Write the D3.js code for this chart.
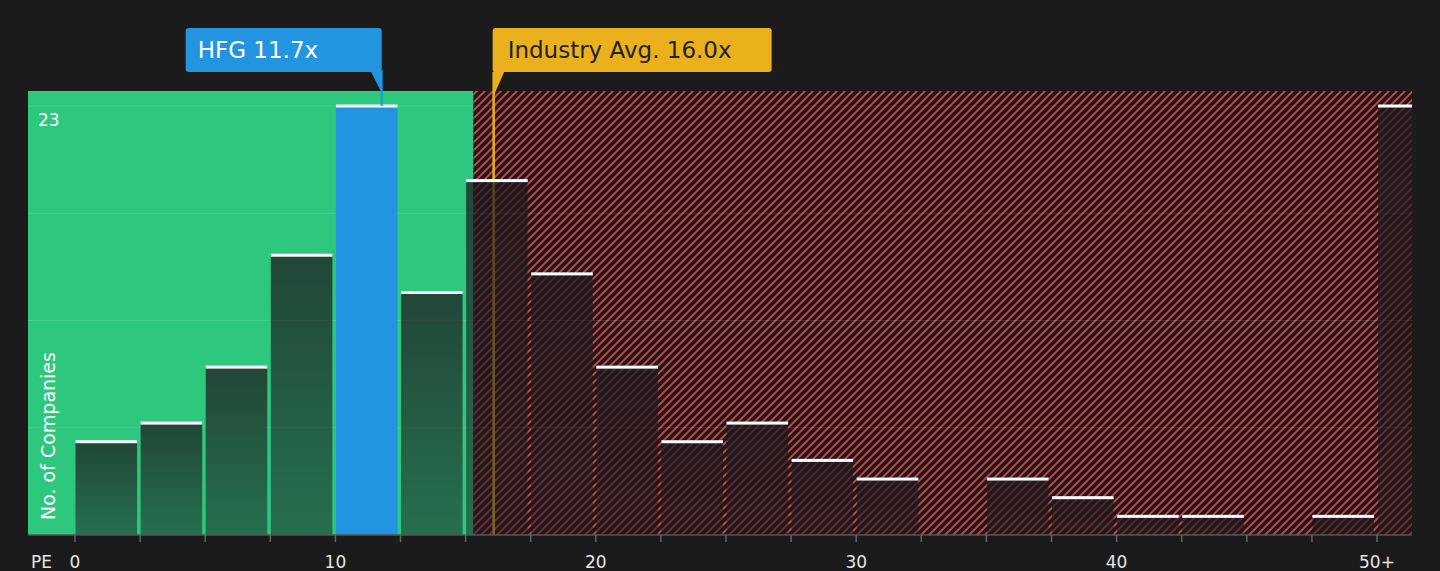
<!DOCTYPE html>
<html>
<head>
<meta charset="utf-8">
<script src="https://cdn.jsdelivr.net/npm/d3@7"></script>
<style>
  html, body { margin: 0; padding: 0; background: #1b1b1b; }
  svg { display: block; font-family: "DejaVu Sans", sans-serif; }
</style>
</head>
<body>
<svg id="chart" width="1440" height="571"></svg>
<script>
// ---- data ----
const binStarts = [0, 2.5, 5, 7.5, 10, 12.5, 15, 17.5, 20, 22.5, 25, 27.5, 30, 32.5, 35, 37.5, 40, 42.5, 45, 47.5, 50];
const counts    = [5, 6, 9, 15, 23, 13, 19, 14, 9, 5, 6, 4, 3, 0, 3, 2, 1, 1, 0, 1, 23];
const tickValues = [0, 10, 20, 30, 40, 50];
const tickLabels = ["0", "10", "20", "30", "40", "50+"];
const yTickValues = [23];
const companyName = "HFG";
const companyPE = 11.7;
const industryPE = 16.0;
const fairThreshold = 15.3;
const highlightBin = 4;

// ---- layout ----
const W = 1440, H = 571;
const plotLeft = 28, plotRight = 1412, plotTop = 91, plotBottom = 535;
const x = d3.scaleLinear().domain([0, 50]).range([75, 1377]);
const y = d3.scaleLinear().domain([0, 23]).range([plotBottom, 106]);
const step = x(2.5) - x(0);

const svg = d3.select("#chart");
svg.append("rect").attr("width", W).attr("height", H).attr("fill", "#1b1b1b");

const defs = svg.append("defs");
const pat = defs.append("pattern").attr("id", "hatch")
  .attr("patternUnits", "userSpaceOnUse").attr("width", 8).attr("height", 8);
pat.append("rect").attr("width", 8).attr("height", 8).attr("fill", "#1b1b1b");
pat.append("path").attr("d", "M-2,2 L2,-2 M0,8 L8,0 M6,10 L10,6")
  .attr("stroke", "#d9484b").attr("stroke-width", 1.6);

const grad = defs.append("linearGradient").attr("id", "barGrad")
  .attr("x1", 0).attr("y1", 0).attr("x2", 0).attr("y2", 1);
grad.append("stop").attr("offset", "0%").attr("stop-color", "rgb(29,25,31)").attr("stop-opacity", 0.74);
grad.append("stop").attr("offset", "100%").attr("stop-color", "rgb(29,25,31)").attr("stop-opacity", 0.5);

const clip = defs.append("clipPath").attr("id", "plotClip");
clip.append("rect").attr("x", plotLeft).attr("y", plotTop)
  .attr("width", plotRight - plotLeft).attr("height", plotBottom - plotTop);

// regions
svg.append("rect").attr("x", plotLeft).attr("y", plotTop)
  .attr("width", x(fairThreshold) - plotLeft).attr("height", plotBottom - plotTop)
  .attr("fill", "#2ec77e");
svg.append("rect").attr("x", x(fairThreshold)).attr("y", plotTop)
  .attr("width", plotRight - x(fairThreshold)).attr("height", plotBottom - plotTop)
  .attr("fill", "url(#hatch)");

// gridlines
const gridVals = [0.25, 0.5, 0.75, 1].map(f => f * 23);
svg.append("g").selectAll("line").data(gridVals).join("line")
  .attr("x1", plotLeft).attr("x2", plotRight)
  .attr("y1", d => y(d)).attr("y2", d => y(d))
  .attr("stroke", "rgba(255,255,255,0.12)").attr("stroke-width", 1);

// industry line (under bars)
const ix = x(industryPE) + 2;
svg.append("line").attr("x1", ix).attr("x2", ix).attr("y1", 72).attr("y2", plotBottom)
  .attr("stroke", "#ebb11d").attr("stroke-width", 2.5);

// bars
const bars = svg.append("g").attr("clip-path", "url(#plotClip)");
const data = binStarts.map((b, i) => ({ b, c: counts[i], i }));
const barX = d => d.b >= 50 ? x(d.b) + 1 : x(d.b) + 0.5;
const barW = d => d.b >= 50 ? plotRight - barX(d) + 2 : step - 3.5;
bars.selectAll("rect.bar").data(data.filter(d => d.c > 0)).join("rect")
  .attr("class", "bar")
  .attr("x", barX).attr("width", barW)
  .attr("y", d => y(d.c)).attr("height", d => plotBottom - y(d.c))
  .attr("fill", d => d.i === highlightBin ? "#2394df" : "url(#barGrad)");
bars.selectAll("rect.cap").data(data.filter(d => d.c > 0)).join("rect")
  .attr("class", "cap")
  .attr("x", barX).attr("width", barW)
  .attr("y", d => y(d.c) - 1.5).attr("height", 3)
  .attr("fill", "#ffffff");

// axis
svg.append("line").attr("x1", plotLeft).attr("x2", plotRight)
  .attr("y1", plotBottom).attr("y2", plotBottom)
  .attr("stroke", "#555").attr("stroke-width", 1.5);
const minorTicks = d3.range(0, 50.01, 2.5);
svg.append("g").selectAll("line").data(minorTicks).join("line")
  .attr("x1", d => x(d)).attr("x2", d => x(d))
  .attr("y1", plotBottom).attr("y2", plotBottom + 7)
  .attr("stroke", "#666").attr("stroke-width", 1.5);
svg.append("g").selectAll("text").data(tickValues).join("text")
  .attr("x", d => x(d)).attr("y", 568)
  .attr("text-anchor", "middle").attr("fill", "#e6e6e6").attr("font-size", 17)
  .text((d, i) => tickLabels[i]);
svg.append("text").attr("x", 31).attr("y", 568).attr("fill", "#e6e6e6")
  .attr("font-size", 17).text("PE");

// y labels
svg.append("g").selectAll("text").data(yTickValues).join("text")
  .attr("x", 38).attr("y", d => y(d) + 20)
  .attr("fill", "#ffffff").attr("font-size", 17).text(d => d);
svg.append("text").attr("transform", "translate(55,520) rotate(-90)")
  .attr("fill", "#ffffff").attr("font-size", 19).text("No. of Companies");

// company callout
const cx = x(companyPE) + 2;
svg.append("line").attr("x1", cx).attr("x2", cx).attr("y1", 70).attr("y2", y(counts[highlightBin]))
  .attr("stroke", "#2394df").attr("stroke-width", 2);
svg.append("path").attr("d", `M${cx - 11},71 L${cx},71 L${cx},93 Z`).attr("fill", "#2394df");
svg.append("rect").attr("x", cx - 196).attr("y", 28).attr("width", 196).attr("height", 44)
  .attr("rx", 3).attr("fill", "#2394df");
svg.append("text").attr("x", cx - 184).attr("y", 58).attr("fill", "#ffffff")
  .attr("font-size", 23).text(`${companyName} ${companyPE.toFixed(1)}x`);

// industry callout
svg.append("path").attr("d", `M${ix},71 L${ix + 11},71 L${ix},96 Z`).attr("fill", "#ebb11d");
svg.append("rect").attr("x", ix - 1).attr("y", 28).attr("width", 279).attr("height", 44)
  .attr("rx", 3).attr("fill", "#ebb11d");
svg.append("text").attr("x", ix + 14).attr("y", 58).attr("fill", "#222")
  .attr("font-size", 23).text(`Industry Avg. ${industryPE.toFixed(1)}x`);
</script>
</body>
</html>
